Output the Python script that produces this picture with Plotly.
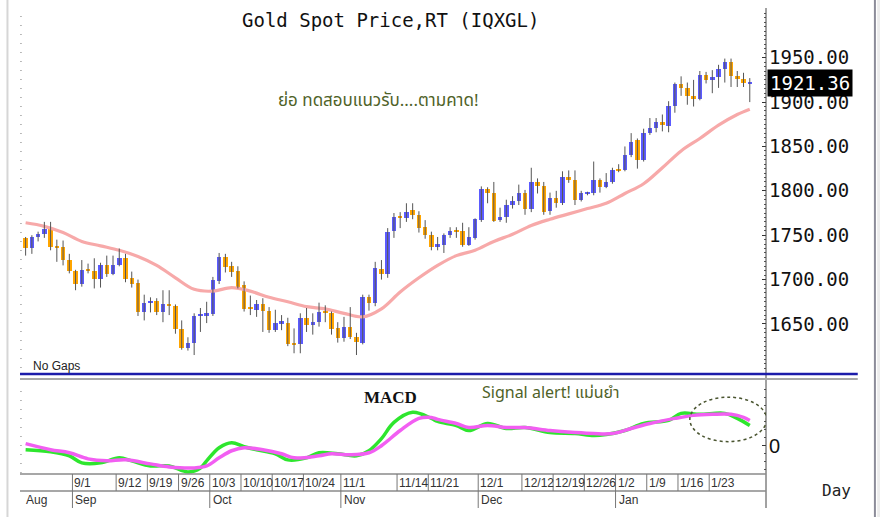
import numpy as np
import pandas as pd
import plotly.graph_objects as go

# ---------------- data ----------------
dates = [d.strftime("%Y-%m-%d") for d in pd.bdate_range("2022-08-22", "2023-01-31")]

open_ = [1747,1736,1748,1751,1758,1738,1737,1722,1710,1695,1712,1710,1701,1717,1706,1717,1724,1702,1696,1664,
         1674,1676,1663,1673,1670,1644,1623,1629,1659,1660,1661,1698,1725,1715,1710,1694,1668,1666,1673,1665,
         1643,1651,1651,1628,1627,1657,1649,1652,1665,1662,1645,1634,1647,1635,1629,1680,1674,1712,1706,1755,
         1771,1769,1778,1773,1759,1750,1737,1739,1750,1755,1755,1739,1747,1767,1802,1798,1768,1770,1784,1788,
         1798,1780,1810,1806,1777,1792,1786,1816,1812,1790,1797,1797,1812,1804,1810,1824,1823,1840,1857,1835,
         1865,1871,1877,1873,1896,1920,1916,1907,1903,1931,1925,1928,1937,1945,1929,1926,1921.0]
high = [1748,1750,1754,1765,1765,1745,1744,1729,1711,1722,1718,1724,1719,1727,1727,1735,1729,1709,1700,1683,
        1680,1679,1688,1688,1672,1654,1635,1662,1668,1675,1703,1730,1729,1720,1715,1698,1682,1677,1679,1669,
        1666,1660,1657,1645,1662,1668,1662,1674,1671,1664,1652,1658,1669,1640,1683,1683,1720,1722,1758,1775,
        1776,1786,1786,1777,1767,1754,1748,1752,1759,1759,1764,1759,1769,1805,1804,1810,1781,1790,1794,1807,
        1801,1826,1814,1810,1798,1800,1822,1823,1823,1800,1799,1833,1814,1820,1826,1830,1850,1865,1859,1870,
        1882,1882,1886,1901,1922,1929,1922,1925,1935,1934,1936,1942,1949,1949,1935,1933,1927]
low = [1727,1729,1743,1747,1733,1720,1716,1707,1688,1692,1707,1690,1691,1703,1705,1715,1697,1691,1659,1654,
       1663,1660,1652,1660,1639,1621,1620,1615,1641,1651,1659,1695,1708,1703,1690,1664,1660,1658,1641,1640,
       1641,1643,1625,1617,1617,1641,1638,1647,1652,1638,1629,1630,1633,1615,1627,1665,1670,1700,1702,1747,
       1758,1765,1768,1753,1746,1733,1733,1730,1747,1747,1737,1738,1745,1765,1786,1765,1765,1764,1780,1784,
       1773,1776,1797,1773,1773,1781,1784,1809,1784,1788,1795,1795,1798,1803,1808,1821,1822,1838,1825,1833,
       1863,1866,1867,1866,1888,1907,1897,1895,1902,1921,1910,1916,1922,1917,1917,1917,1900]
close = [1736,1748,1751,1757,1737,1736,1722,1710,1695,1711,1710,1701,1717,1706,1717,1724,1701,1695,1664,1674,
         1676,1663,1673,1670,1644,1623,1629,1659,1660,1661,1700,1725,1714,1709,1692,1667,1667,1673,1665,1643,
         1651,1652,1627,1627,1657,1649,1652,1664,1662,1644,1634,1647,1635,1630,1680,1674,1713,1706,1754,1771,
         1770,1776,1773,1758,1750,1737,1740,1750,1755,1754,1739,1748,1768,1802,1798,1766,1770,1784,1788,1798,
         1779,1810,1806,1776,1792,1786,1816,1812,1790,1797,1797,1812,1804,1810,1824,1823,1840,1855,1835,1865,
         1871,1877,1875,1896,1920,1916,1907,1903,1931,1925,1928,1937,1945,1929,1927,1922,1921.36]

# moving average (pink) read at selected candles
ma_idx = [0,3,6,9,12,15,18,21,24,27,30,33,36,39,42,45,48,51,54,57,60,63,66,69,72,75,78,81,84,87,90,93,96,99,102,105,108,111,114,116]
ma_val = [1764,1760,1753,1743,1738,1733,1726,1716,1702,1689,1687,1691,1687,1680,1675,1669.5,1667,1662,1658,1667,
          1686,1702,1716,1727,1733,1743,1751,1761,1768,1774,1780,1786,1797,1808,1826,1845,1859,1874,1886,1892]

# MACD (green) and signal (magenta) read at selected candles
macd_idx = [0,4,7,9,12,15,17,20,23,26,28,29,31,33,35,37,40,42,45,47,50,53,55,57,59,62,65,66,69,71,74,77,80,84,88,91,93,96,99,103,105,108,112,114,116]
macd_val = [-4,-6,-10,-17,-17,-12,-15,-20,-20,-26,-22,-15,-2,3,-1,-4,-8,-14,-12,-7,-8,-10,-5,7,23,33,27,24,20,15,22,17,18,13,12,10,11,15,22,25,32,31,32,27,20]
sig_idx = [0,4,7,10,13,16,20,23,27,29,31,33,35,38,41,43,47,49,52,55,57,60,63,65,66,69,71,74,77,80,84,88,91,94,97,100,104,107,110,113,115,116]
sig_val = [2,-4,-7,-13,-15,-14,-18,-21,-22,-20,-12,-5,-2,-4,-8,-12,-10,-8,-9,-7,0,15,27,28,26,22,18,20,18,18,15,13,12,12,17,22,27,30,31,31,28,25]

price_ticks = [1650, 1700, 1750, 1800, 1850, 1900, 1950]
week_labels = ["9/1","9/12","9/19","9/26","10/3","10/10","10/17","10/24","11/1","11/14","11/21",
               "12/1","12/12","12/19","12/26","1/2","1/9","1/16","1/23"]
week_dates = ["2022-09-01","2022-09-12","2022-09-19","2022-09-26","2022-10-03","2022-10-10","2022-10-17",
              "2022-10-24","2022-11-01","2022-11-14","2022-11-21","2022-12-01","2022-12-12","2022-12-19",
              "2022-12-26","2023-01-02","2023-01-09","2023-01-16","2023-01-23"]
month_labels = ["Aug","Sep","Oct","Nov","Dec","Jan"]
month_dates = ["2022-08-22","2022-09-01","2022-10-03","2022-11-01","2022-12-01","2023-01-02"]

title_text = "Gold Spot Price,RT (IQXGL)"
note_text = "ย่อ ทดสอบแนวรับ....ตามคาด!"
signal_text = "Signal alert! แม่นยำ"

# ---------------- styles ----------------
UP = "#5b5bff"
DOWN = "#ffa500"
WICK = "#555555"
OLIVE = "#4f6228"
THAI_FONT = "Tahoma, 'Noto Sans Thai', 'Noto Sans', 'DejaVu Sans', sans-serif"
MONO = "DejaVu Sans Mono"
SANS = "'Liberation Sans', Arial"

n = len(dates)
idx = np.arange(n)
o = np.array(open_, float)
c = np.array(close, float)
h = np.array(high, float)
l = np.array(low, float)
up = c >= o
body_base = np.minimum(o, c)
body_h = np.maximum(np.abs(c - o), 1.8)
colors = np.where(up, UP, DOWN)

wx, wy = [], []
for i in idx:
    wx += [int(i), int(i), None]
    wy += [l[i], h[i], None]

fig = go.Figure()
fig.add_trace(go.Scatter(x=ma_idx, y=ma_val, mode="lines", line=dict(color="#f7a9a9", width=3.2, shape="spline"),
                         xaxis="x", yaxis="y", hoverinfo="skip"))
fig.add_trace(go.Scatter(x=wx, y=wy, mode="lines", line=dict(color=WICK, width=1),
                         xaxis="x", yaxis="y", hoverinfo="skip"))
fig.add_trace(go.Bar(x=idx, y=body_h, base=body_base, marker=dict(color=list(colors), line=dict(width=0)),
                     width=0.72, xaxis="x", yaxis="y"))
fig.add_trace(go.Scatter(x=macd_idx, y=macd_val, mode="lines",
                         line=dict(color="#2ee62e", width=3.5, shape="spline"), xaxis="x2", yaxis="y2"))
fig.add_trace(go.Scatter(x=sig_idx, y=sig_val, mode="lines",
                         line=dict(color="#f25ef2", width=3.5, shape="spline"), xaxis="x2", yaxis="y2"))

XR = [-0.9, 118.6]
PRICE_DOM = [0.274, 1.0]
MACD_DOM = [0.068, 0.254]

fig.update_layout(
    width=880, height=517,
    margin=dict(l=20, r=114, t=8, b=9),
    paper_bgcolor="white", plot_bgcolor="white",
    showlegend=False, bargap=0,
    xaxis=dict(domain=[0, 1], range=XR, showticklabels=False, showgrid=False, zeroline=False,
               showline=False, ticks="", anchor="y"),
    xaxis2=dict(domain=[0, 1], range=XR, showticklabels=False, showgrid=False, zeroline=False,
                showline=False, ticks="", anchor="y2", matches="x"),
    yaxis=dict(domain=PRICE_DOM, range=[1597, 2006], side="right", tickvals=price_ticks,
               tickformat=".2f", showgrid=False, zeroline=False, showline=False,
               ticks="inside", ticklen=4, tickcolor="#333",
               minor=dict(dtick=5, ticks="inside", ticklen=2, tickcolor="#555", showgrid=False),
               tickfont=dict(family=MONO, size=19, color="#111"), anchor="x", ticklabelstandoff=2),
    yaxis2=dict(domain=MACD_DOM, range=[-28, 64], side="right", tickvals=[0], ticktext=["0"],
                showgrid=False, zeroline=False, showline=False,
                ticks="inside", ticklen=4, tickcolor="#333",
                minor=dict(dtick=8, ticks="inside", ticklen=2, tickcolor="#555", showgrid=False),
                tickfont=dict(family=SANS, size=20, color="#111"), anchor="x2", ticklabelstandoff=2),
)

shapes = []
# frame / separators
shapes.append(dict(type="line", xref="paper", yref="paper", x0=1, x1=1, y0=0, y1=1.0,
                   line=dict(color="#444", width=1)))
shapes.append(dict(type="line", xref="paper", yref="paper", x0=0, x1=1.123, y0=0.268, y1=0.268,
                   line=dict(color="#1c1caa", width=2.5)))
shapes.append(dict(type="line", xref="paper", yref="paper", x0=0, x1=1.123, y0=0.258, y1=0.258,
                   line=dict(color="#a8a8a8", width=2)))
shapes.append(dict(type="line", xref="paper", yref="paper", x0=0, x1=1, y0=0.068, y1=0.068,
                   line=dict(color="#8a8a8a", width=1.5)))
shapes.append(dict(type="line", xref="paper", yref="paper", x0=0, x1=1, y0=0.034, y1=0.034,
                   line=dict(color="#8a8a8a", width=1.5)))
# left dotted axis lines
for y0, y1 in [(0.28, 0.99), (0.07, 0.25)]:
    shapes.append(dict(type="line", xref="paper", yref="paper", x0=0.0013, x1=0.0013, y0=y0, y1=y1,
                       line=dict(color="#777", width=1, dash="1px,8px")))
# window borders
shapes.append(dict(type="line", xref="paper", yref="paper", x0=-0.0168, x1=-0.0168, y0=-0.02, y1=1.02,
                   line=dict(color="#d6d6d6", width=2)))
shapes.append(dict(type="line", xref="paper", yref="paper", x0=1.146, x1=1.146, y0=-0.02, y1=1.02,
                   line=dict(color="#8c8c99", width=2)))
shapes.append(dict(type="rect", xref="paper", yref="paper", x0=1.149, x1=1.2, y0=-0.02, y1=1.02,
                   line=dict(width=0), fillcolor="#ececec"))
# date axis separators
for d in week_dates:
    i = dates.index(d)
    shapes.append(dict(type="line", xref="x2", yref="paper", x0=i - 0.5, x1=i - 0.5, y0=0.034, y1=0.068,
                       line=dict(color="#777", width=1)))
for d in month_dates[1:]:
    i = dates.index(d)
    shapes.append(dict(type="line", xref="x2", yref="paper", x0=i - 0.5, x1=i - 0.5, y0=0.0, y1=0.034,
                       line=dict(color="#777", width=1)))
# dotted ellipse on MACD
shapes.append(dict(type="circle", xref="x2", yref="y2", x0=106.4, x1=118.7, y0=4, y1=48,
                   line=dict(color="#4a5530", width=1.5, dash="dot")))
fig.update_layout(shapes=shapes)

ann = []
def text_ann(text, x, y, font, xanchor="center", xref="paper", yref="paper", **kw):
    d = dict(text=text, xref=xref, yref=yref, x=x, y=y, xanchor=xanchor, yanchor="middle",
             showarrow=False, font=font)
    d.update(kw)
    ann.append(d)

text_ann(title_text, 0.496, 0.976, dict(family=MONO, size=19, color="#111"))
text_ann(note_text, 0.481, 0.814, dict(family=THAI_FONT, size=17, color=OLIVE))
text_ann("No Gaps", 0.0147, 0.284, dict(family=SANS, size=12, color="#222"), xanchor="left")
text_ann("<b>MACD</b>", 0.496, 0.222, dict(family="Liberation Serif", size=17, color="#111"))
text_ann(signal_text, 0.617, 0.23, dict(family=THAI_FONT, size=16, color=OLIVE), xanchor="left")
text_ann("Day", 1.094, 0.036, dict(family=MONO, size=16, color="#222"))
text_ann(f"{close[-1]:.2f}", 1, close[-1], dict(family=MONO, size=19, color="white"), xanchor="left",
         yref="y", xshift=1, bgcolor="black", borderpad=2)
for lab, d in zip(week_labels, week_dates):
    i = dates.index(d)
    text_ann(lab, i - 0.5, 0.051, dict(family=SANS, size=12, color="#333"), xanchor="left", xref="x2")
for lab, d in zip(month_labels, month_dates):
    i = dates.index(d)
    text_ann(lab, i - 0.5, 0.017, dict(family=SANS, size=12, color="#333"), xanchor="left", xref="x2",
             xshift=1)
fig.update_layout(annotations=ann)

fig.write_html("out.html")
